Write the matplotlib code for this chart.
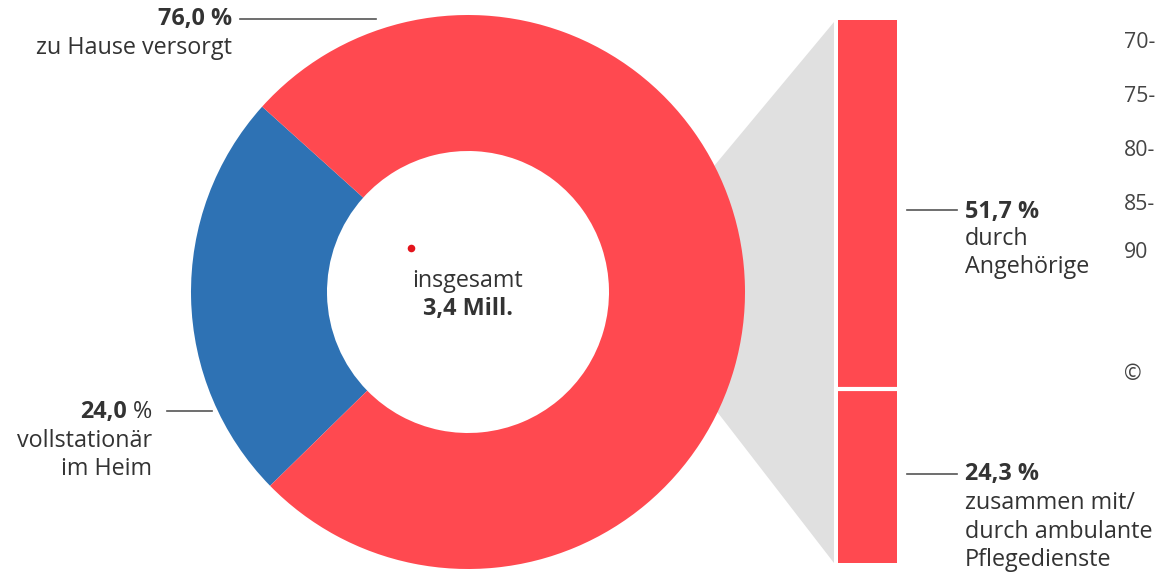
import matplotlib
matplotlib.use("Agg")
import matplotlib.pyplot as plt
from matplotlib.patches import Polygon

# Daten
anteile = [24.0, 76.0]                 # vollstationär, zu Hause
farben = ["#2e72b4", "#ff4950"]
zuhause_teile = [24.3, 51.7]           # ambulante Pflegedienste, Angehörige
alter_labels = ["70-", "75-", "80-", "85-", "90"]

W, H = 1160, 572
plt.rcParams['font.family'] = ['Open Sans', 'DejaVu Sans']
TXT = "#333333"
FS = 16.8

fig = plt.figure(figsize=(W / 100, H / 100), dpi=100)
ax = fig.add_axes([0, 0, 1, 1])


def yy(y):
    # Pixel von oben -> Achsenkoordinate von unten
    return H - y


# grauer Trichter zur Säule
trichter = Polygon([(640, yy(255)), (834, yy(22)), (834, yy(563)), (640, yy(312))],
                   closed=True, facecolor="#e0e0e0", edgecolor="none", zorder=1)
ax.add_patch(trichter)

# Donut
ax.pie(anteile, colors=farben, startangle=138, counterclock=True,
       center=(468, yy(292)), radius=277,
       wedgeprops=dict(width=136, linewidth=0, zorder=2))
ax.set_xlim(0, W)
ax.set_ylim(0, H)
ax.set_aspect('auto')
ax.axis('off')

# roter Punkt in der Mitte
ax.scatter([411], [yy(248)], s=30, color="#e3141c", zorder=5, linewidths=0)

ax.text(468, yy(281), "insgesamt", ha='center', va='center', fontsize=FS, color=TXT)
ax.text(468, yy(309), "3,4 Mill.", ha='center', va='center', fontsize=FS,
        color=TXT, fontweight='bold')

# Beschriftungen links
lw = 1.2
lc = "#555555"
ax.plot([240, 376], [yy(19), yy(19)], color=lc, lw=lw)
ax.text(232, yy(19), "76,0 %", ha='right', va='center', fontsize=FS,
        color=TXT, fontweight='bold')
ax.text(232, yy(48), "zu Hause versorgt", ha='right', va='center', fontsize=FS, color=TXT)

ax.plot([167, 212], [yy(411), yy(411)], color=lc, lw=lw)
ax.text(127, yy(412), "24,0", ha='right', va='center', fontsize=FS,
        color=TXT, fontweight='bold')
ax.text(152, yy(412), "%", ha='right', va='center', fontsize=FS, color=TXT)
ax.text(152, yy(441), "vollstationär", ha='right', va='center', fontsize=FS, color=TXT)
ax.text(152, yy(469), "im Heim", ha='right', va='center', fontsize=FS, color=TXT)

# Beschriftungen rechts
ax.plot([907, 957], [yy(210), yy(210)], color=lc, lw=lw)
ax.text(965, yy(212), "51,7 %", ha='left', va='center', fontsize=FS,
        color=TXT, fontweight='bold')
ax.text(965, yy(239), "durch", ha='left', va='center', fontsize=FS, color=TXT)
ax.text(965, yy(267), "Angehörige", ha='left', va='center', fontsize=FS, color=TXT)

ax.plot([907, 957], [yy(474), yy(474)], color=lc, lw=lw)
ax.text(965, yy(474), "24,3 %", ha='left', va='center', fontsize=FS,
        color=TXT, fontweight='bold')
ax.text(965, yy(503), "zusammen mit/", ha='left', va='center', fontsize=FS, color=TXT)
ax.text(965, yy(532), "durch ambulante", ha='left', va='center', fontsize=FS, color=TXT)
ax.text(965, yy(560), "Pflegedienste", ha='left', va='center', fontsize=FS, color=TXT)

# abgeschnittene Altersachse am rechten Rand
for lab, yp in zip(alter_labels, [42, 96, 150, 204, 253]):
    ax.text(1124, yy(yp), lab, ha='left', va='center', fontsize=FS - 1.5, color="#444444")
ax.text(1124, yy(375), "©", ha='left', va='center', fontsize=FS - 1.5, color="#444444")

# gestapelte Säule
bx = fig.add_axes([838 / W, (H - 563) / H, 59 / W, 543 / H])
unten = 0
for wert in zuhause_teile:
    bx.bar(0, wert, bottom=unten, width=1.0, color=farben[1], linewidth=0)
    unten += wert
bx.axhline(zuhause_teile[0], color="white", lw=3)
bx.set_xlim(-0.5, 0.5)
bx.set_ylim(0, sum(zuhause_teile))
bx.axis('off')

fig.savefig("out.png", dpi=100)
